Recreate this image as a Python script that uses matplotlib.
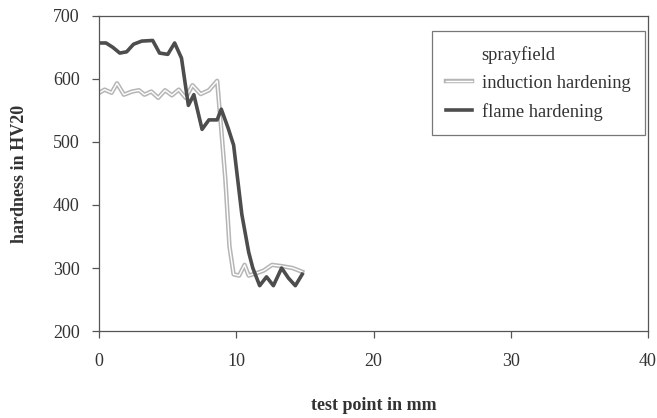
import matplotlib
matplotlib.use("Agg")
import matplotlib.pyplot as plt
import matplotlib.patheffects as pe

# test point positions (mm) and measured hardness (HV20)
flame_x = [0.0, 0.5, 1.0, 1.5, 2.0, 2.5, 3.1, 3.9, 4.4, 5.0, 5.5, 6.0, 6.5, 6.9,
           7.5, 8.0, 8.6, 8.9, 9.4, 9.8, 10.4, 10.9, 11.2, 11.7, 12.2, 12.7,
           13.3, 13.8, 14.3, 14.8]
flame_hv = [657, 657, 650, 641, 643, 655, 660, 661, 641, 639, 657, 633, 558, 575,
            520, 535, 535, 552, 522, 495, 385, 325, 300, 272, 286, 272,
            300, 284, 272, 290]

induction_x = [0.0, 0.4, 0.9, 1.3, 1.8, 2.4, 2.9, 3.3, 3.8, 4.3, 4.8, 5.3, 5.8,
               6.3, 6.8, 7.4, 8.0, 8.6, 8.9, 9.2, 9.5, 9.8, 10.2, 10.6, 10.9,
               11.5, 12.0, 12.6, 13.3, 14.1, 14.8]
induction_hv = [578, 583, 578, 593, 575, 580, 582, 575, 580, 570, 582, 574, 583,
                570, 590, 576, 582, 597, 520, 440, 334, 290, 288, 305, 288,
                292, 296, 305, 303, 300, 294]

x_ticks = [0, 10, 20, 30, 40]
y_ticks = [200, 300, 400, 500, 600, 700]


def main():
    plt.rcParams["font.family"] = ["Liberation Serif", "DejaVu Serif"]

    fig = plt.figure(figsize=(6.57, 4.18), dpi=100)
    ax = fig.add_axes([0.151, 0.208, 0.835, 0.754])

    ax.plot([], [], color="none", label="sprayfield")
    ax.plot(induction_x, induction_hv, color="white", lw=1.0,
            label="induction hardening",
            path_effects=[pe.Stroke(linewidth=3.2, foreground="#b5b5b5"), pe.Normal()])
    ax.plot(flame_x, flame_hv, color="#4d4d4d", lw=2.6, label="flame hardening")

    ax.set_xlim(0, 40)
    ax.set_ylim(200, 700)
    ax.set_xticks(x_ticks)
    ax.set_yticks(y_ticks)

    for side in ax.spines.values():
        side.set_color("#555555")
        side.set_linewidth(0.9)
    ax.tick_params(axis="both", length=5, width=0.9, color="#555555",
                   labelsize=13, labelcolor="#333333")
    ax.tick_params(axis="y", pad=9)
    ax.tick_params(axis="x", pad=11)

    ax.set_xlabel("test point in mm", fontsize=13, fontweight="bold",
                  color="#333333", labelpad=19)
    ax.set_ylabel("hardness in HV20", fontsize=13, fontweight="bold",
                  color="#333333", labelpad=18)

    leg = ax.legend(loc="upper right", bbox_to_anchor=(0.995, 0.952),
                    fontsize=13.3, frameon=True, fancybox=False,
                    handlelength=1.4, handletextpad=0.5, labelspacing=0.6,
                    borderpad=0.8, borderaxespad=0)
    leg.get_frame().set_edgecolor("#555555")
    leg.get_frame().set_linewidth(0.9)
    for t in leg.get_texts():
        t.set_color("#333333")

    fig.savefig("out.png", dpi=100)


if __name__ == "__main__":
    main()
